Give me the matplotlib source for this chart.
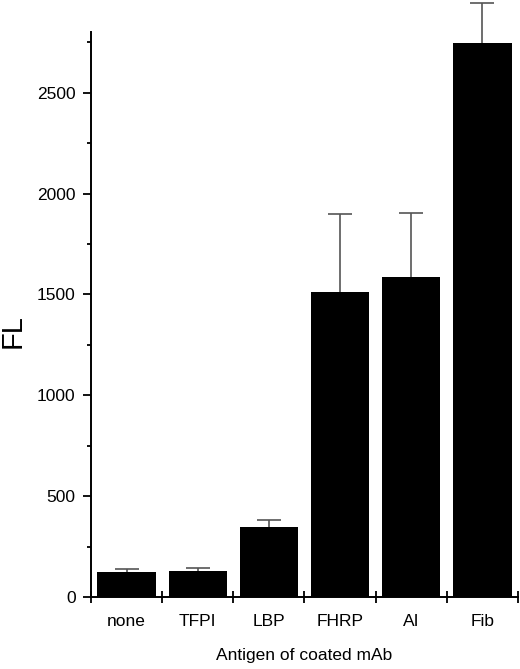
import matplotlib
matplotlib.use("Agg")
import matplotlib.pyplot as plt
from matplotlib.ticker import MultipleLocator, FixedLocator

plt.rcParams["font.family"] = ["Liberation Sans", "DejaVu Sans"]

antigens = ["none", "TFPI", "LBP", "FHRP", "AI", "Fib"]
fl_mean = [125, 129, 347, 1513, 1588, 2746]
fl_err = [15, 13, 36, 383, 315, 200]

fig = plt.figure(figsize=(5.2, 6.69), dpi=100)
ax = fig.add_axes([0.175, 0.1076, 0.821, 0.8444])

x = list(range(len(antigens)))
ax.bar(x, fl_mean, width=0.82, color="black", zorder=2)
eb = ax.errorbar(x, fl_mean, yerr=[[0] * len(fl_err), fl_err], fmt="none",
                 ecolor="#555555", elinewidth=1.2, capsize=8.5, capthick=1.2,
                 zorder=1)
caps = eb.lines[1]
caps[0].set_visible(False)  # no cap at the bar top
for part in list(caps) + list(eb.lines[2]):
    part.set_clip_on(False)

ax.set_xlim(-0.5, 5.5)
ax.set_ylim(0, 2800)

for side in ("top", "right"):
    ax.spines[side].set_visible(False)
for side in ("left", "bottom"):
    ax.spines[side].set_linewidth(1.4)

ax.yaxis.set_major_locator(MultipleLocator(500))
ax.yaxis.set_minor_locator(MultipleLocator(250))
ax.tick_params(axis="y", which="major", direction="out", length=6, width=1.3,
               labelsize=12.5, pad=5)
ax.tick_params(axis="y", which="minor", direction="out", length=3, width=1.3)

ax.set_xticks(x)
ax.set_xticklabels(antigens)
ax.xaxis.set_minor_locator(FixedLocator([i - 0.5 for i in range(len(antigens) + 1)]))
ax.tick_params(axis="x", which="major", length=0, labelsize=12.5, pad=12)
ax.tick_params(axis="x", which="minor", direction="inout", length=8, width=1.3)

ax.set_xlabel("Antigen of coated mAb", fontsize=12.5, labelpad=14)
fig.text(13 / 520, 1 - 331 / 669, "FL", fontsize=21, rotation=90,
         ha="center", va="center")

fig.savefig("out.png", dpi=100)
